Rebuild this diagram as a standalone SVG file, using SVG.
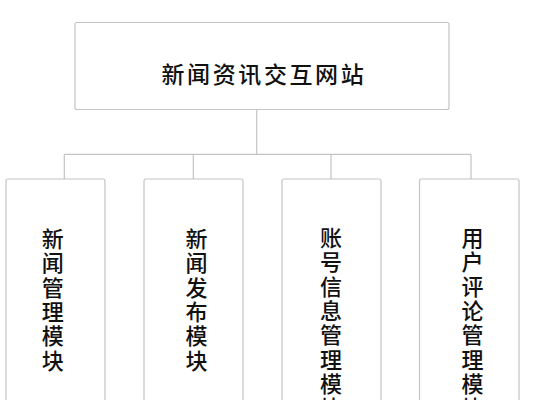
<svg xmlns="http://www.w3.org/2000/svg" width="536" height="400" viewBox="0 0 536 400">
<style>
.box{fill:#fff;stroke:#c4c4c4;stroke-width:1.2}
.con{stroke:#c4c4c4;stroke-width:1.2;fill:none}
.t{font-family:"Noto Sans CJK SC","Noto Sans",sans-serif;fill:#111;font-weight:500}
.title{font-size:23px;letter-spacing:2.6px}
.v{font-size:22px;text-anchor:middle}
</style>
<rect width="536" height="400" fill="#fff"/>
<g id="root">
<rect class="box" x="75" y="22.5" width="374" height="87" rx="2"/>
<text class="t title" x="161.5" y="82.5">新闻资讯交互网站</text>
</g>
<g id="connectors">
<path class="con" d="M256.7 109.5V154.3M64.3 154.3H471M64.3 154.3V179M193.3 154.3V179M331 154.3V179M471 154.3V179"/>
</g>
<g id="m1">
<rect class="box" x="6" y="179" width="99" height="240" rx="2"/>
<text class="t v" y="247"><tspan x="52.7">新</tspan><tspan x="52.7" dy="24.3">闻</tspan><tspan x="52.7" dy="24.3">管</tspan><tspan x="52.7" dy="24.3">理</tspan><tspan x="52.7" dy="24.3">模</tspan><tspan x="52.7" dy="24.3">块</tspan></text>
</g>
<g id="m2">
<rect class="box" x="144" y="179" width="99" height="240" rx="2"/>
<text class="t v" y="247"><tspan x="196.5">新</tspan><tspan x="196.5" dy="24.3">闻</tspan><tspan x="196.5" dy="24.3">发</tspan><tspan x="196.5" dy="24.3">布</tspan><tspan x="196.5" dy="24.3">模</tspan><tspan x="196.5" dy="24.3">块</tspan></text>
</g>
<g id="m3">
<rect class="box" x="282" y="179" width="99" height="240" rx="2"/>
<text class="t v" y="246"><tspan x="331">账</tspan><tspan x="331" dy="24.3">号</tspan><tspan x="331" dy="24.3">信</tspan><tspan x="331" dy="24.3">息</tspan><tspan x="331" dy="24.3">管</tspan><tspan x="331" dy="24.3">理</tspan><tspan x="331" dy="24.3">模</tspan><tspan x="331" dy="24.3">块</tspan></text>
</g>
<g id="m4">
<rect class="box" x="419.5" y="179" width="99.5" height="240" rx="2"/>
<text class="t v" y="246"><tspan x="472.5">用</tspan><tspan x="472.5" dy="24.3">户</tspan><tspan x="472.5" dy="24.3">评</tspan><tspan x="472.5" dy="24.3">论</tspan><tspan x="472.5" dy="24.3">管</tspan><tspan x="472.5" dy="24.3">理</tspan><tspan x="472.5" dy="24.3">模</tspan><tspan x="472.5" dy="24.3">块</tspan></text>
</g>
</svg>
